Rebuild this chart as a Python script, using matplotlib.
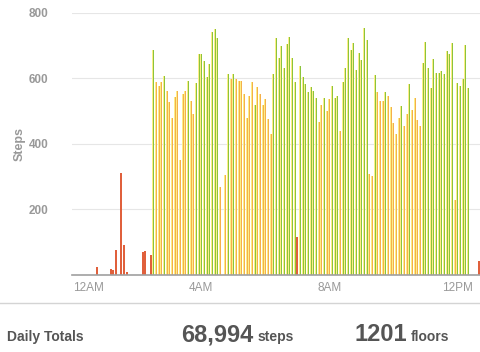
import numpy as np
import matplotlib
matplotlib.use('Agg')
import matplotlib.pyplot as plt
from matplotlib.lines import Line2D

plt.rcParams['font.family'] = ['Liberation Sans', 'DejaVu Sans']

# --- Data: steps per 5-minute slot, 12 slots per hour, from 12AM ---
steps = [
    0, 0, 0, 0, 0, 0, 0, 0, 0, 24, 0, 0,                            # 12AM
    0, 0, 18, 15, 75, 0, 312, 90, 8, 0, 0, 0,                       # 1AM
    0, 0, 69, 72, 0, 60, 685, 589, 577, 587, 607, 561,              # 2AM
    526, 480, 543, 561, 349, 553, 561, 592, 529, 490, 584, 675,     # 3AM
    673, 653, 605, 643, 742, 750, 722, 268, 0, 304, 612, 597,       # 4AM
    612, 597, 590, 592, 551, 478, 546, 587, 519, 574, 553, 519,     # 5AM
    536, 475, 430, 614, 722, 663, 698, 632, 705, 726, 661, 589,     # 6AM
    114, 637, 603, 583, 558, 572, 561, 540, 467, 519, 540, 501,     # 7AM
    536, 577, 539, 546, 438, 587, 632, 723, 685, 708, 624, 678,     # 8AM
    655, 754, 716, 306, 300, 610, 559, 531, 529, 559, 546, 511,     # 9AM
    464, 430, 478, 516, 455, 490, 583, 503, 539, 472, 455, 646,     # 10AM
    711, 630, 571, 660, 617, 615, 622, 612, 683, 675, 708, 227,     # 11AM
    584, 576, 597, 700, 571, 0, 0, 0, 42,                           # 12PM
]
# activity level per slot: r = sedentary, o = light, g = active
levels_by_hour = [
    "rrrrrrrrrrrr",
    "rrrrrrrrrrrr",
    "rrrrrrgooogo",
    "ooooooogoogg",
    "gggggggooogo",
    "gooooooogooo",
    "oooggggggggg",
    "rgggggggoogo",
    "ogggoggggggg",
    "gggoogooogoo",
    "ooogoogoooog",
    "gggggggggggo",
    "gggggrrrr",
]

tick_pos = [0, 48, 96, 144]
tick_labels = ['12AM', '4AM', '8AM', '12PM']
y_ticks = [200, 400, 600, 800]
total_steps = '68,994'
total_floors = '1201'

level_colors = {'g': '#8cc43c', 'o': '#f4b04a', 'r': '#e0603c'}
pale = '#fcee86'

# --- Figure ---
fig = plt.figure(figsize=(4.8, 3.52), dpi=100)
ax = fig.add_axes([72 / 480, 77.3 / 352, 408 / 480, 262 / 352])

x = np.arange(len(steps))
h = np.array(steps)
lv = np.array(list(''.join(levels_by_hour)))

# each bar ~2 px: pale yellow left edge, level colour on the right
red = lv == 'r'
ax.bar(x[red], h[red], width=0.7, color=level_colors['r'], linewidth=0)
for key in ['o', 'g']:
    m = lv == key
    ax.bar(x[m] - 0.19, h[m], width=0.38, color=pale, linewidth=0)
    ax.bar(x[m] + 0.19, h[m], width=0.38, color=level_colors[key], linewidth=0)

ax.set_xlim(-0.5, 152.5)
ax.set_ylim(0, 800)
ax.set_yticks(y_ticks)
ax.yaxis.grid(True, color='#e6e6e6', linewidth=0.8)
ax.set_axisbelow(True)
for s in ['top', 'right', 'left']:
    ax.spines[s].set_visible(False)
ax.spines['bottom'].set_color('#a0a0a0')
ax.spines['bottom'].set_linewidth(1.2)

ax.set_xticks(tick_pos)
ax.set_xticklabels(tick_labels)
ax.tick_params(axis='x', length=0, labelsize=8.5, colors='#999999', pad=5)
ax.tick_params(axis='y', length=0, labelsize=8.5, colors='#999999', pad=17)
for t in ax.get_yticklabels():
    t.set_fontweight('bold')
ax.get_xticklabels()[0].set_ha('left')

ax.set_ylabel('Steps', fontsize=9, fontweight='bold', color='#999999')
ax.yaxis.set_label_coords(-0.113, 0.5)

# --- Daily totals footer ---
fig.add_artist(Line2D([0, 1], [0.138, 0.138], transform=fig.transFigure,
                      color='#d4d4d4', linewidth=1))
tc = '#555555'
fig.text(7 / 480, 0.031, 'Daily Totals', fontsize=10, fontweight='bold', color=tc, va='baseline')
fig.text(181.5 / 480, 0.031, total_steps, fontsize=17, fontweight='bold', color=tc, va='baseline')
fig.text(258 / 480, 0.031, 'steps', fontsize=10, fontweight='bold', color=tc, va='baseline')
fig.text(354 / 480, 0.031, total_floors, fontsize=17, fontweight='bold', color=tc, va='baseline')
fig.text(411 / 480, 0.031, 'floors', fontsize=10, fontweight='bold', color=tc, va='baseline')

fig.savefig('out.png', dpi=100)
